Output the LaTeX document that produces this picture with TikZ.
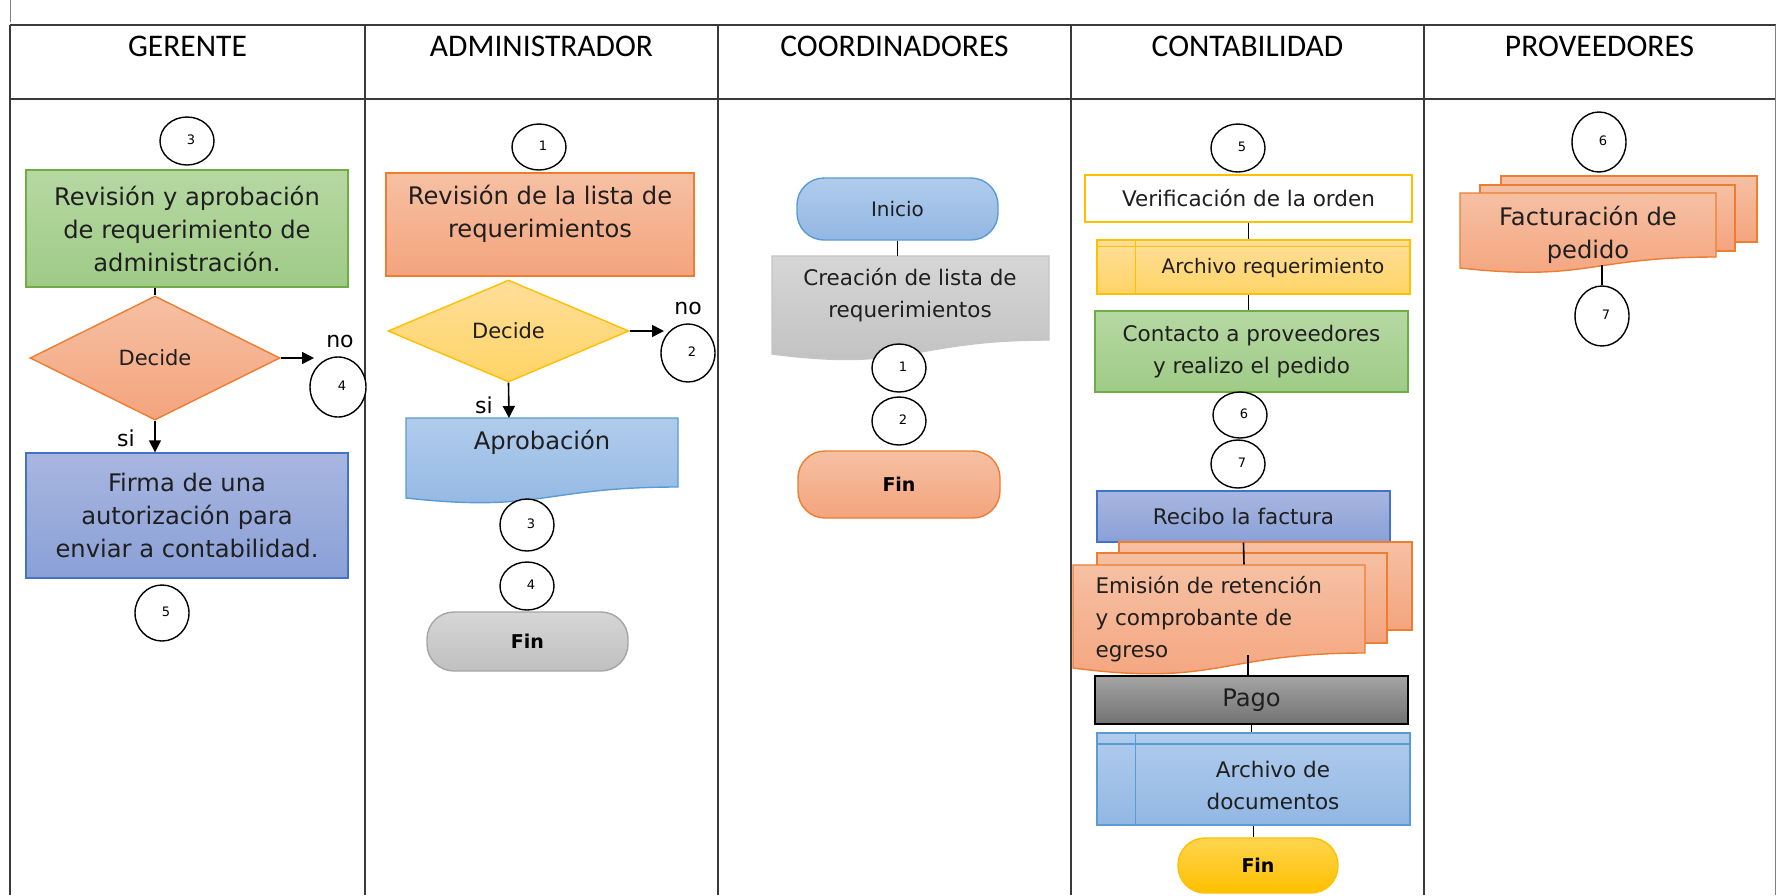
\documentclass[tikz,border=0pt]{standalone}
\usepackage{fontspec}
\setmainfont{DejaVu Sans}
\newfontfamily\hdrfont{Carlito}
\usetikzlibrary{shapes.geometric,arrows.meta}
\definecolor{txt}{HTML}{1F1F1F}
\definecolor{gridc}{HTML}{3A3A3A}
\definecolor{grnT}{HTML}{B6D8A3}
\definecolor{grnB}{HTML}{9FCB86}
\definecolor{grnD}{HTML}{70AD47}
\definecolor{orgT}{HTML}{F6C0A3}
\definecolor{orgB}{HTML}{F4A47D}
\definecolor{orgD}{HTML}{ED7D31}
\definecolor{bluT}{HTML}{A8B6E1}
\definecolor{bluB}{HTML}{8AA0D6}
\definecolor{bluD}{HTML}{4472C4}
\definecolor{lbT}{HTML}{B0CCEC}
\definecolor{lbB}{HTML}{92B7E4}
\definecolor{lbD}{HTML}{5B9BD5}
\definecolor{ylwT}{HTML}{FFDE9A}
\definecolor{ylwB}{HTML}{FFD465}
\definecolor{ylwD}{HTML}{FFC000}
\definecolor{gryT}{HTML}{D6D6D6}
\definecolor{gryB}{HTML}{C0C0C0}
\definecolor{gryD}{HTML}{A5A5A5}
\definecolor{pgT}{HTML}{A4A4A4}
\definecolor{pgB}{HTML}{727272}
\definecolor{fyT}{HTML}{FFD54F}
\definecolor{fyB}{HTML}{FFC000}
\newcommand{\nm}[1]{\raisebox{3pt}{\hspace{8pt}#1}}
\tikzset{
  grid/.style={draw=gridc, line width=2pt},
  conn/.style={draw=black, line width=1.6pt},
  arr/.style={conn, -{Triangle[length=12pt,width=12pt]}},
  num/.style={ellipse, draw=black, line width=1.4pt, fill=white, inner sep=0pt,
    minimum width=54pt, minimum height=48pt, font=\fontsize{13}{13}\selectfont, text=black},
  proc/.style={rectangle, line width=1.4pt, inner sep=0pt, align=center, text=txt},
  term/.style={rectangle, rounded corners=27pt, line width=1.4pt, inner sep=0pt,
    font=\bfseries\fontsize{19}{19}\selectfont, text=black},
  decision/.style={diamond, line width=1.4pt, inner sep=0pt, text=txt,
    font=\fontsize{21}{21}\selectfont},
  big/.style={font=\fontsize{24.2}{33}\selectfont, text=txt, align=center},
  small/.style={font=\fontsize{21.5}{32}\selectfont, text=txt, align=center},
  tiny/.style={font=\fontsize{20}{28}\selectfont, text=txt, align=center},
  lbl/.style={font=\fontsize{22}{22}\selectfont, text=black},
  hdr/.style={font=\hdrfont\fontsize{31.5}{31.5}\selectfont, text=black},
  shade/.style n args={3}{draw=#1, top color=#2, bottom color=#3, line width=1.4pt}
}
\begin{document}
\begin{tikzpicture}[x=1pt,y=-1pt]
\useasboundingbox (0,0) rectangle (1778,895);
\fill[white] (0,0) rectangle (1778,895);

% ---------- table ----------
\draw[draw=gray, line width=1pt] (10,0) -- (10,22);
\draw[grid] (10,25) -- (1776,25);
\draw[grid] (10,99) -- (1776,99);
\foreach \x in {10,365,718,1071,1424} \draw[grid] (\x,25) -- (\x,895);
\draw[draw=gray, line width=1pt] (1775,25) -- (1775,895);

\node[hdr] (h1) at (187.5,46) {GERENTE};
\node[hdr] (h2) at (541.5,46) {ADMINISTRADOR};
\node[hdr] (h3) at (894.5,46) {COORDINADORES};
\node[hdr] (h4) at (1247.5,46) {CONTABILIDAD};
\node[hdr] (h5) at (1599.5,46) {PROVEEDORES};

% ---------- GERENTE ----------
\node[num] (g3) at (187,141) {\nm{3}};
\node[proc, big, shade={grnD}{grnT}{grnB}, minimum width=322pt, minimum height=117pt] (grev) at (187,228.5)
  {Revisión y aprobación\\de requerimiento de\\administración.};
\node[decision, shade={orgD}{orgT}{orgB}, minimum width=250pt, minimum height=124pt] (gdec) at (155,358) {Decide};
\draw[conn] (grev.south -| gdec.north) -- (gdec.north);
\coordinate (gno) at (314,358);
\draw[arr] (gdec.east) -- (gno);
\node[lbl] (gnol) at (340,341) {no};
\node[num, minimum width=56pt, minimum height=60pt] (g4) at (338,387) {\nm{4}};
\node[proc, big, shade={bluD}{bluT}{bluB}, minimum width=322pt, minimum height=125pt] (gfirma) at (187,515.5)
  {Firma de una\\autorización para\\enviar a contabilidad.};
\draw[arr] (gdec.south) -- (gdec.south |- gfirma.north);
\node[lbl] (gsi) at (126,438) {si};
\node[num, minimum height=56pt] (g5) at (162,613) {\nm{5}};

% ---------- ADMINISTRADOR ----------
\node[num, minimum height=46pt] (a1) at (539,147) {\nm{1}};
\node[proc, shade={orgD}{orgT}{orgB}, minimum width=308pt, minimum height=103pt] (arev) at (540,224.5) {};
\node[big] (arevt) at (540,214) {Revisión de la lista de\\requerimientos};
\node[decision, shade={ylwD}{ylwT}{ylwB}, minimum width=241pt, minimum height=102pt] (adec) at (508.5,331) {Decide};
\coordinate (ano) at (664,331);
\draw[arr] (adec.east) -- (ano);
\node[lbl] (anol) at (688,308) {no};
\node[num, minimum height=58pt] (a2) at (688,353) {\nm{2}};
\path[shade={lbD}{lbT}{lbB}] (406,418) -- (678,418) -- (678,487)
  .. controls (542,487) and (542,513) .. (406,498) -- cycle;
\coordinate (aaprtop) at (509,418);
\node[big] (aaprt) at (542,442) {Aprobación};
\draw[arr] (adec.south) -- (aaprtop);
\node[lbl] (asi) at (484,405) {si};
\node[num, minimum height=52pt] (a3) at (527,525) {\nm{3}};
\node[num] (a4) at (527,586) {\nm{4}};
\node[term, shade={gryD}{gryT}{gryB}, minimum width=201pt, minimum height=59pt] (afin) at (527.5,641.5) {Fin};

% ---------- COORDINADORES ----------
\node[term, shade={lbD}{lbT}{lbB}, minimum width=201pt, minimum height=62pt,
  font=\fontsize{20}{20}\selectfont, text=txt] (cini) at (897.5,209) {Inicio};
\path[shade={gryT!80!gray}{gryT}{gryB}] (772,256) -- (1049,256) -- (1049,340)
  .. controls (910.5,340) and (910.5,372) .. (772,354) -- cycle;
\coordinate (ccrtop) at (900,256);
\draw[conn] (cini.south) -- (cini.south |- ccrtop);
\node[small] (ccrt) at (910,295.5) {Creación de lista de\\requerimientos};
\node[num] (c1) at (899,368) {\nm{1}};
\node[num] (c2) at (899,421) {\nm{2}};
\node[term, shade={orgD}{orgT}{orgB}, minimum width=202pt, minimum height=67pt] (cfin) at (899,484.5) {Fin};

% ---------- CONTABILIDAD ----------
\node[num] (k5) at (1238,148) {\nm{5}};
\node[proc, small, draw=ylwD, fill=white, minimum width=327pt, minimum height=47pt] (kver) at (1248.5,198.5)
  {Verificación de la orden};
\node[proc, shade={ylwD}{ylwT}{ylwB}, minimum width=313pt, minimum height=54pt] (karq) at (1253.5,267) {};
\draw[draw=ylwD, line width=1.4pt] (karq.north west) ++(39,0) -- ++(0,54);
\draw[draw=ylwD, line width=1.4pt] (karq.north west) ++(0,7) -- ++(313,0);
\node[tiny] (karqt) at (1273,268) {Archivo requerimiento};
\draw[conn] (kver.south) -- (kver.south |- karq.north);
\node[proc, small, shade={grnD}{grnT}{grnB}, minimum width=313pt, minimum height=81pt] (kcon) at (1251.5,351.5)
  {Contacto a proveedores\\y realizo el pedido};
\draw[conn] (kver.south |- karq.south) -- (kver.south |- kcon.north);
\node[num, minimum height=46pt] (k6) at (1240,415) {\nm{6}};
\node[num] (k7) at (1238,464) {\nm{7}};
\node[proc, small, shade={bluD}{bluT}{bluB}, minimum width=293pt, minimum height=51pt] (krec) at (1243.5,516.5)
  {Recibo la factura};
\path[shade={orgD}{orgT}{orgB}] (1119,542) rectangle (1412,630);
\path[shade={orgD}{orgT}{orgB}] (1097,553) rectangle (1387,643);
\coordinate (kemtop) at (1244,565);
\draw[conn] (krec.south) -- (kemtop);
\path[shade={orgD}{orgT}{orgB}] (1073,565) -- (1365,565) -- (1365,653)
  .. controls (1219,653) and (1219,687) .. (1073,668) -- cycle;
\node[small, align=left, anchor=west] (kemt) at (1092,619)
  {Emisión de retención\\y comprobante de\\egreso};
\coordinate (kembot) at (1248,655);
\node[proc, big, shade={black}{pgT}{pgB}, minimum width=313pt, minimum height=48pt] (kpago) at (1251.5,700) {Pago};
\draw[conn] (kembot) -- (kembot |- kpago.north);
\node[proc, shade={lbD}{lbT}{lbB}, minimum width=313pt, minimum height=92pt] (kad) at (1253.5,779) {};
\draw[draw=lbD, line width=1.4pt] (kad.north west) ++(39,0) -- ++(0,92);
\draw[draw=lbD, line width=1.4pt] (kad.north west) ++(0,11.5) -- ++(313,0);
\node[small] (kadt) at (1273,785) {Archivo de\\documentos};
\draw[conn] (kpago.south) -- (kpago.south |- kad.north);
\node[term, shade={fyB}{fyT}{fyB}, minimum width=160pt, minimum height=55pt] (kfin) at (1258,865.5) {Fin};
\draw[conn] (kad.south) -- (kad.south |- kfin.north);

% ---------- PROVEEDORES ----------
\node[num, minimum height=60pt] (p6) at (1599,142) {\nm{6}};
\path[shade={orgD}{orgT}{orgB}] (1501,176) rectangle (1757,242);
\path[shade={orgD}{orgT}{orgB}] (1480,185) rectangle (1735,251);
\path[shade={orgD}{orgT}{orgB}] (1460,193) -- (1716,193) -- (1716,257)
  .. controls (1588,257) and (1588,282) .. (1460,268) -- cycle;
\node[big] (pfact) at (1588,235) {Facturación de\\pedido};
\coordinate (pfbot) at (1602,265);
\node[num, minimum height=60pt] (p7) at (1602,316) {\nm{7}};
\draw[conn] (pfbot) -- (p7.north);
\end{tikzpicture}
\end{document}
